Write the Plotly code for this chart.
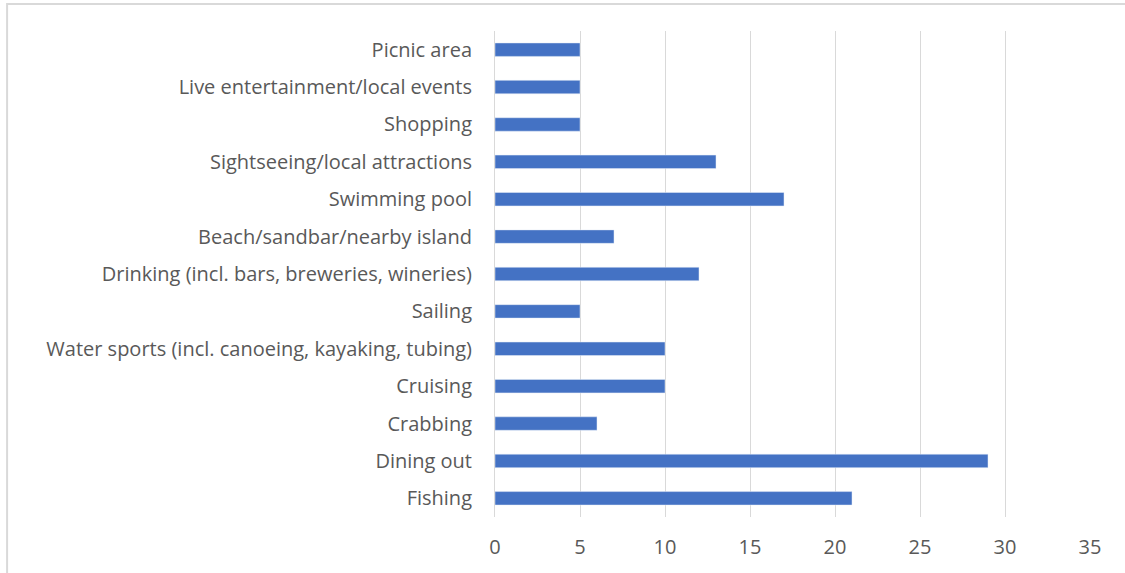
import plotly.graph_objects as go

# activities, top to bottom as shown in the chart
activities = [
    "Picnic area",
    "Live entertainment/local events",
    "Shopping",
    "Sightseeing/local attractions",
    "Swimming pool",
    "Beach/sandbar/nearby island",
    "Drinking (incl. bars, breweries, wineries)",
    "Sailing",
    "Water sports (incl. canoeing, kayaking, tubing)",
    "Cruising",
    "Crabbing",
    "Dining out",
    "Fishing",
]
counts = [5, 5, 5, 13, 17, 7, 12, 5, 10, 10, 6, 29, 21]
x_ticks = [0, 5, 10, 15, 20, 25, 30, 35]

grey = "#D9D9D9"
txt = "#595959"

fig = go.Figure(go.Bar(
    x=counts,
    y=activities,
    orientation="h",
    marker_color="#4472C4",
    width=0.36,
))

fig.update_layout(
    width=1125, height=573,
    margin=dict(l=495, r=35, t=31, b=56),
    paper_bgcolor="white",
    plot_bgcolor="white",
    font=dict(family="Open Sans, sans-serif", size=20, color=txt),
    showlegend=False,
)
fig.update_xaxes(
    range=[0, 35], tickvals=x_ticks,
    showgrid=True, gridcolor=grey, gridwidth=1,
    zeroline=False, showline=False, ticks="",
    ticklabelstandoff=16,
)
fig.update_yaxes(
    autorange="reversed",
    showline=True, linecolor=grey, linewidth=1,
    ticks="", showgrid=False,
    ticklabelstandoff=18,
)
# outer chart frame (only top and left edges visible in the picture)
fig.add_shape(type="rect", xref="paper", yref="paper",
              x0=-0.82, x1=1.2, y0=-0.3, y1=1.0556,
              line=dict(color=grey, width=2), layer="below")

# drop the default page margin so the figure sits at the window's corner
fig.write_html("out.html", config={"displayModeBar": False},
               post_script="document.body.style.margin='0';")
